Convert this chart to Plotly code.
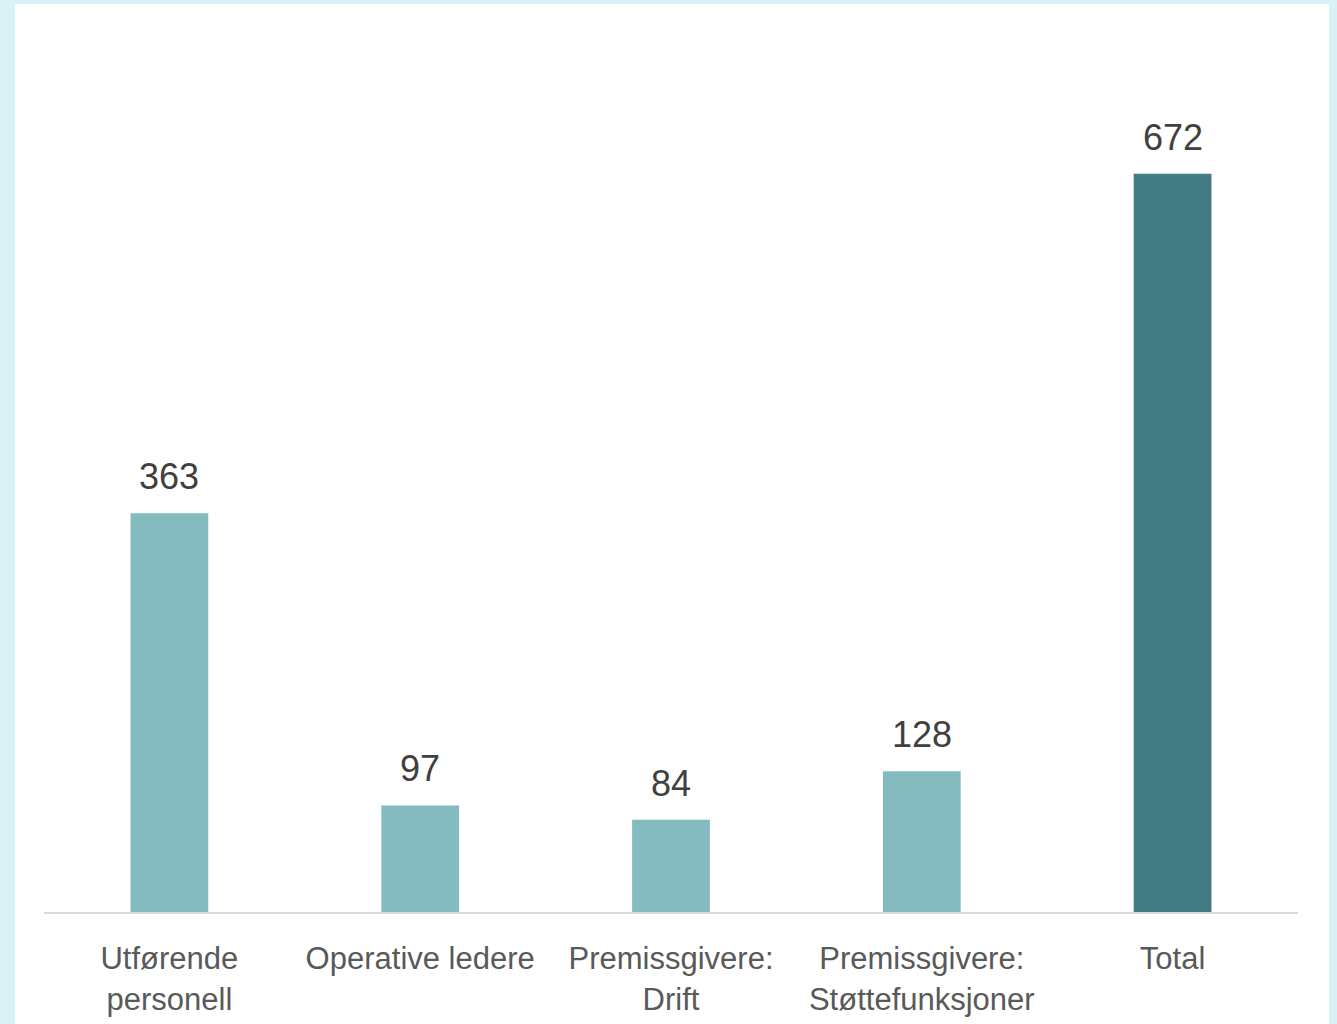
import plotly.graph_objects as go

categories = ["Utførende<br>personell", "Operative ledere", "Premissgivere:<br>Drift",
              "Premissgivere:<br>Støttefunksjoner", "Total"]
values = [363, 97, 84, 128, 672]
colors = ["#84BBBF", "#84BBBF", "#84BBBF", "#84BBBF", "#427C82"]

W, H = 1337, 1024
ml, mr, mt, mb = 44, 39, 88, 112
pw = W - ml - mr
ph = H - mt - mb

fig = go.Figure()
fig.add_trace(go.Bar(x=categories, y=values, marker=dict(color=colors, line=dict(width=0)),
                     width=0.31, hoverinfo="skip"))

for c, v in zip(categories, values):
    fig.add_annotation(x=c, y=v, text=str(v), showarrow=False, yanchor="bottom",
                       yshift=14, font=dict(family="Liberation Sans, Arial", size=36, color="#404040"))

# white panel over light-blue page
fig.add_shape(type="rect", xref="paper", yref="paper", layer="below",
              x0=(15 - ml) / pw, x1=(1329 - ml) / pw,
              y0=(H - mb - 1030) / ph, y1=(H - mb - 4) / ph,
              fillcolor="white", line=dict(width=0))

fig.update_layout(
    width=W, height=H,
    margin=dict(l=ml, r=mr, t=mt, b=mb),
    paper_bgcolor="#DAF2F7", plot_bgcolor="rgba(0,0,0,0)",
    showlegend=False,
    font=dict(family="Liberation Sans, Arial", size=30, color="#595959"),
    xaxis=dict(showgrid=False, showline=True, linecolor="#D9D9D9", linewidth=2,
               ticks="", ticklabelstandoff=18, automargin=False,
               tickfont=dict(size=31, color="#595959"), fixedrange=True),
    yaxis=dict(range=[0, 750], visible=False, fixedrange=True, automargin=False),
)

fig.write_html("out.html", config={"displayModeBar": False},
               post_script="document.body.style.margin='0';document.body.style.overflow='hidden';")
